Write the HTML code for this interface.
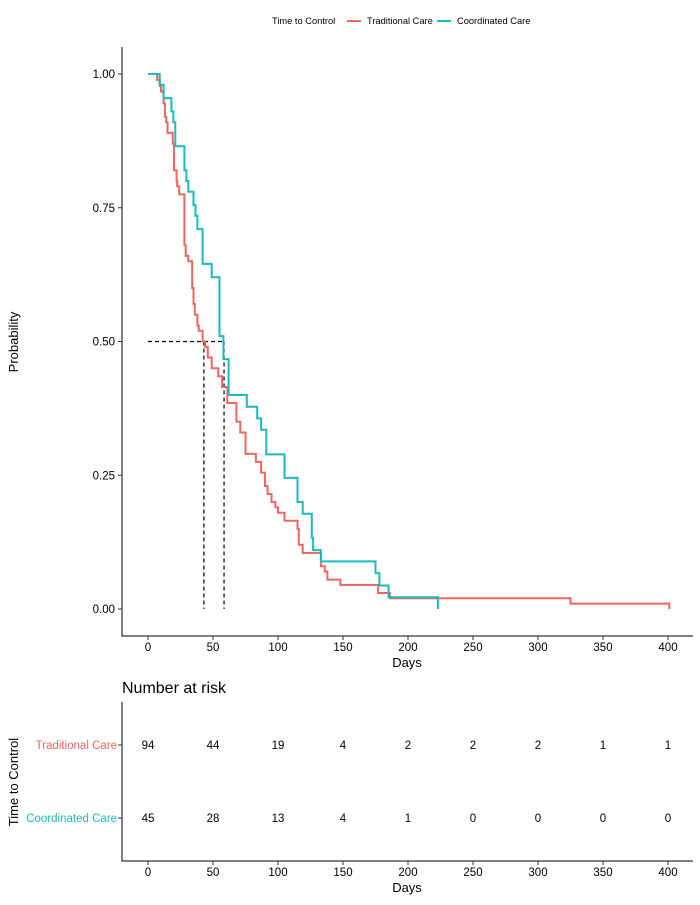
<!DOCTYPE html>
<html><head><meta charset="utf-8"><style>
body{margin:0;background:#fff;font-family:"Liberation Sans",Arial,sans-serif}
svg text{font-family:"Liberation Sans",Arial,sans-serif}
</style></head><body>
<svg id="c" width="700" height="900" xmlns="http://www.w3.org/2000/svg"></svg>
<script>
const tradT=[0,7,9,10,12,13,14,15,19,20,22,22.5,24,28,29,31,34,35,36,38,39,42,44,46,49,54,57,61,68,71,75,83,87,90,92,95,98,100,105,115,116,119,133,136,138,148,177,186,325,401];
const tradS=[1,0.989,0.978,0.967,0.945,0.92,0.91,0.89,0.87,0.82,0.80,0.79,0.775,0.68,0.66,0.65,0.60,0.57,0.55,0.53,0.52,0.50,0.49,0.47,0.45,0.435,0.415,0.385,0.35,0.33,0.29,0.275,0.255,0.23,0.215,0.20,0.19,0.18,0.165,0.15,0.12,0.105,0.08,0.07,0.055,0.045,0.03,0.02,0.01,0];
const coordT=[0,9,12,18,19.5,21,28,29.5,31,35,36.5,38,42,49,55,58,62,76,84,87,91,105,115,119,126,127,133,175,178,185,223];
const coordS=[1,0.98,0.955,0.93,0.91,0.865,0.82,0.80,0.78,0.755,0.735,0.71,0.645,0.62,0.51,0.467,0.40,0.378,0.356,0.335,0.289,0.245,0.20,0.178,0.133,0.11,0.089,0.067,0.044,0.022,0];
const medians=[43,58.5];
const xTicks=[0,50,100,150,200,250,300,350,400];
const yTicks=[0,0.25,0.5,0.75,1];
const yTickLabels=["0.00","0.25","0.50","0.75","1.00"];
const riskTrad=[94,44,19,4,2,2,2,1,1];
const riskCoord=[45,28,13,4,1,0,0,0,0];
const RED="#ED6661",TEAL="#1DBABB";
const X=t=>148+t*1.3, Y=s=>609-s*535;
const svg=document.getElementById('c');const NS="http://www.w3.org/2000/svg";
function el(tag,attrs,text){const e=document.createElementNS(NS,tag);for(const k in attrs)e.setAttribute(k,attrs[k]);if(text!==undefined)e.textContent=text;svg.appendChild(e);return e;}
let t=el('text',{x:272,y:24,'font-size':9.3,fill:'#000'},'Time to Control');


[[347,'Traditional Care',RED,'legend-traditional'],[437,'Coordinated Care',TEAL,'legend-coordinated']].forEach(([x,l,c,n])=>{
 let g=el('line',{x1:x,x2:x+14,y1:21,y2:21,stroke:c,'stroke-width':2});
 
 
 let tt=el('text',{x:x+20,y:24,'font-size':9.3},l);
 
 
});
let a=el('path',{d:'M122,47V636H693',stroke:'#000',fill:'none','stroke-width':1});


yTicks.forEach((v,i)=>{
 let l=el('line',{x1:118,x2:122,y1:Y(v),y2:Y(v),stroke:'#333'});
 
 
 let tx=el('text',{x:115,y:Y(v)+4,'font-size':11.5,'text-anchor':'end',fill:'#000'},yTickLabels[i]);
 
 
});
function xaxis(y0,name){xTicks.forEach(v=>{
 let l=el('line',{x1:X(v),x2:X(v),y1:y0,y2:y0+4,stroke:'#333'});
 
 
 let tx=el('text',{x:X(v),y:y0+15,'font-size':11.5,'text-anchor':'middle'},v);
 
 
});}
xaxis(636,'x');
t=el('text',{x:407,y:667,'font-size':13,'text-anchor':'middle'},'Days');


t=el('text',{x:0,y:0,'font-size':13,'text-anchor':'middle',transform:'translate(18,342) rotate(-90)'},'Probability');


let md=el('path',{d:`M${X(0)},${Y(0.5)}H${X(medians[1])}M${X(medians[0])},${Y(0.5)}V${Y(0)}M${X(medians[1])},${Y(0.5)}V${Y(0)}`,stroke:'#000',fill:'none','stroke-dasharray':'4,3','stroke-width':1.2});


function step(T,S){let d=`M${X(T[0])},${Y(S[0])}`;for(let i=1;i<T.length;i++){d+=`H${X(T[i])}V${Y(S[i])}`;}return d;}
let p=el('path',{d:step(tradT,tradS),stroke:RED,fill:'none','stroke-width':2});


p=el('path',{d:step(coordT,coordS),stroke:TEAL,fill:'none','stroke-width':2});


t=el('text',{x:122,y:693,'font-size':16},'Number at risk');


a=el('path',{d:'M122,702V861H693',stroke:'#000',fill:'none'});


xaxis(861,'risk-x');
t=el('text',{x:407,y:892,'font-size':13,'text-anchor':'middle'},'Days');


t=el('text',{x:0,y:0,'font-size':13,'text-anchor':'middle',transform:'translate(18,782) rotate(-90)'},'Time to Control');


[[745,'Traditional Care',RED,riskTrad,'traditional'],[818,'Coordinated Care',TEAL,riskCoord,'coordinated']].forEach(([y,l,c,arr,n])=>{
 let tt=el('text',{x:117,y:y+4,'font-size':11.5,'text-anchor':'end',fill:c},l);
 
 
 let tk=el('line',{x1:118,x2:122,y1:y,y2:y,stroke:'#333'});
 
 
 arr.forEach((v,i)=>{
  let c2=el('text',{x:X(xTicks[i]),y:y+4,'font-size':11.5,'text-anchor':'middle'},v);
  
  
 });
});
</script>
</body></html>
